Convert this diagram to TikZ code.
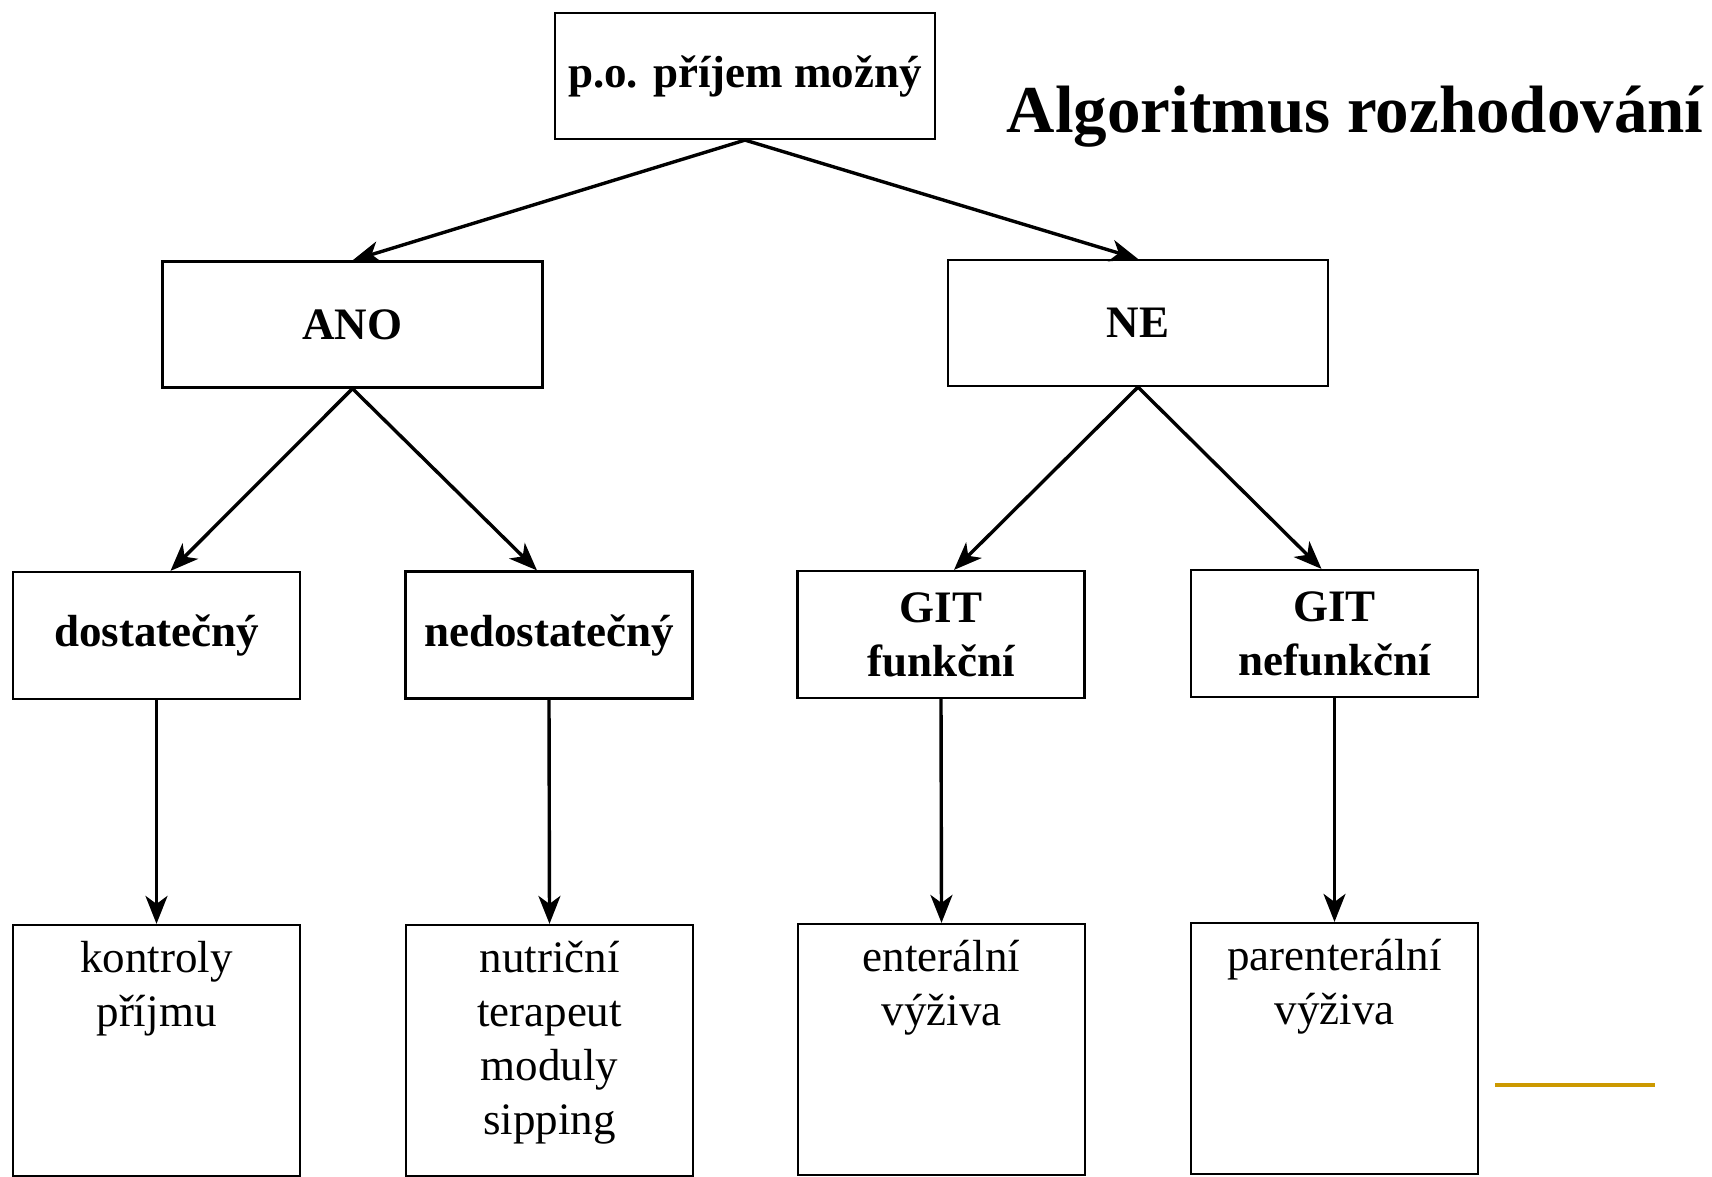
\documentclass[tikz,border=0pt]{standalone}
\usepackage{fontspec}
\setmainfont{Liberation Serif}
\usetikzlibrary{arrows.meta,calc}

\definecolor{goldline}{RGB}{204,153,0}

\tikzset{
	box/.style={draw, line width=1.1pt, inner sep=0pt, align=center,
		font=\fontsize{22.5}{27}\selectfont\bfseries},
	rootbox/.style={box, minimum width=190pt, minimum height=63pt},
	midbox/.style={box, minimum width=143.5pt, minimum height=63.5pt},
	leafbox/.style={draw, line width=1.1pt, inner sep=0pt, minimum width=143.5pt, minimum height=125.5pt},
	leaftext/.style={inner sep=0pt, anchor=north, align=center,
		font=\fontsize{22.5}{27}\selectfont},
	tree arrow/.style={line width=1.7pt, -{Stealth[length=14pt,width=11pt,inset=4pt]}},
	title/.style={inner sep=0pt, font=\fontsize{33.5}{40}\selectfont\bfseries}}
\tikzset{every picture/.style={line width=0.75pt}}

\begin{document}
\begin{tikzpicture}[x=0.5pt,y=0.5pt,yscale=-1,xscale=1]
	\useasboundingbox (0,0) rectangle (1712,1177);

	%Shape: Rectangle [root]
	\node[rootbox] (root) at (745,76) {p.o. příjem možný};
	% Text Node
	\node[title] (title) at (1355,117) {Algoritmus rozhodování};

	%Shape: Rectangle [second row]
	\node[rootbox] (ano) at (352.5,324.5) {ANO};
	\node[rootbox] (ne) at (1138,323) {NE};

	%Shape: Rectangle [third row]
	\node[midbox] (dost) at (156.5,635.5) {dostatečný};
	\node[midbox] (nedost) at (549,635) {nedostatečný};
	\node[midbox] (gitf) at (941,634.5) {GIT\\funkční};
	\node[midbox] (gitn) at (1334.5,633.5) {GIT\\nefunkční};

	%Shape: Rectangle [bottom row]
	\node[leafbox] (kontr) at (156.5,1050.5) {};
	\node[leafbox] (nutr) at (549.5,1050.5) {};
	\node[leafbox] (ent) at (941.5,1049.5) {};
	\node[leafbox] (par) at (1334.5,1048.5) {};

	% Text Node
	\node[leaftext] (kontrt) at ($(kontr.north)+(0,17)$) {kontroly\\příjmu};
	\node[leaftext] (nutrt) at ($(nutr.north)+(0,17)$) {nutriční\\terapeut\\moduly\\sipping};
	\node[leaftext] (entt) at ($(ent.north)+(0,17)$) {enterální\\výživa};
	\node[leaftext] (part) at ($(par.north)+(0,17)$) {parenterální\\výživa};

	%Straight Lines [arrows]
	\draw[tree arrow] (root.south) -- (ano.north);
	\draw[tree arrow] (root.south) -- (ne.north);
	\draw[tree arrow] (ano.south) -- ($(dost.north)+(14,0)$);
	\draw[tree arrow] (ano.south) -- ($(nedost.north)+(-12,0)$);
	\draw[tree arrow] (ne.south) -- ($(gitf.north)+(13,0)$);
	\draw[tree arrow] (ne.south) -- ($(gitn.north)+(-13,0)$);
	\draw[tree arrow] (dost.south) -- (kontr.north);
	\draw[tree arrow] (nedost.south) -- (nutr.north);
	\draw[tree arrow] (gitf.south) -- (ent.north);
	\draw[tree arrow] (gitn.south) -- (par.north);

	%Straight Lines [gold]
	\draw[goldline, line width=1.75pt] (1495,1085) -- (1655,1085);

\end{tikzpicture}
\end{document}
